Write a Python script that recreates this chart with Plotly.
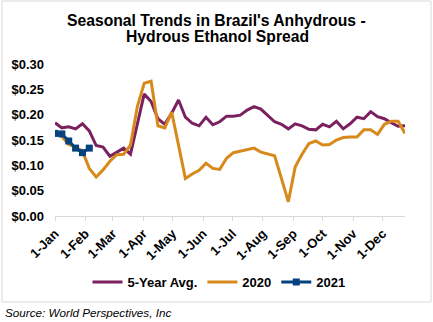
import pandas as pd
import plotly.graph_objects as go

# Weekly observation dates (categories)
weeks = pd.date_range("2021-01-01", periods=52, freq="7D")

avg5 = [0.184, 0.174, 0.176, 0.172, 0.182, 0.168, 0.139, 0.136, 0.118, 0.126,
        0.134, 0.122, 0.180, 0.241, 0.226, 0.192, 0.181, 0.203, 0.229, 0.195,
        0.183, 0.178, 0.195, 0.180, 0.186, 0.197, 0.197, 0.199, 0.209, 0.216,
        0.211, 0.199, 0.186, 0.181, 0.172, 0.182, 0.178, 0.171, 0.170, 0.181,
        0.176, 0.187, 0.172, 0.182, 0.195, 0.192, 0.206, 0.196, 0.192, 0.184,
        0.177, 0.178]
y2020 = [0.163, 0.157, 0.141, 0.136, 0.128, 0.094, 0.077, 0.091, 0.108, 0.121,
         0.122, 0.140, 0.216, 0.262, 0.266, 0.178, 0.174, 0.205, 0.140, 0.074,
         0.083, 0.090, 0.104, 0.094, 0.092, 0.114, 0.125, 0.128, 0.130, 0.134,
         0.126, 0.123, 0.119, 0.074, 0.028, 0.097, 0.122, 0.143, 0.148, 0.140,
         0.141, 0.150, 0.155, 0.156, 0.156, 0.170, 0.170, 0.161, 0.181, 0.187,
         0.187, 0.163]
y2021 = [0.163, 0.162, 0.148, 0.134, 0.125, 0.134]

series_names = ["5-Year Avg.", "2020", "2021"]
colors = ["#7B2160", "#D8891C", "#06437E"]

FONT = "Arial, Liberation Sans, sans-serif"

fig = go.Figure()
fig.add_trace(go.Scatter(x=weeks, y=avg5, name=series_names[0], mode="lines",
                         line=dict(color=colors[0], width=3)))
fig.add_trace(go.Scatter(x=weeks, y=y2020, name=series_names[1], mode="lines",
                         line=dict(color=colors[1], width=3)))
fig.add_trace(go.Scatter(x=weeks[:len(y2021)], y=y2021, name=series_names[2],
                         mode="lines+markers",
                         line=dict(color=colors[2], width=3),
                         marker=dict(symbol="square", size=7, color=colors[2])))

L, R, T, B = 55, 28, 64, 106
W, H = 433, 322
pw, ph = W - L - R, H - T - B

def px(x):
    return (x - L) / pw

def py(y):
    return (H - B - y) / ph

fig.update_layout(
    width=W, height=H,
    margin=dict(l=L, r=R, t=T, b=B),
    paper_bgcolor="white", plot_bgcolor="white",
    font=dict(family=FONT, color="#000000"),
    showlegend=True,
    legend=dict(orientation="h", x=px(219), xanchor="center", y=py(282),
                yanchor="middle", font=dict(size=13, weight="bold"),
                bgcolor="rgba(0,0,0,0)"),
    xaxis=dict(type="date", range=[weeks[0], weeks[-1]], tick0="2021-01-01",
               dtick="M1", tickformat="%-d-%b", tickangle=-45,
               ticks="outside", ticklen=4, tickcolor="#d9d9d9",
               showline=True, linecolor="#d9d9d9", linewidth=1,
               showgrid=False, zeroline=False,
               tickfont=dict(size=13, weight="bold")),
    yaxis=dict(range=[0, 0.30], dtick=0.05, tickformat="$.2f",
               showgrid=False, zeroline=False, showline=False,
               ticks="", ticklabelstandoff=10,
               tickfont=dict(size=13, weight="bold")),
    shapes=[dict(type="rect", xref="paper", yref="paper",
                 x0=px(2), x1=px(431), y0=py(302), y1=py(1),
                 line=dict(color="#d9d9d9", width=1), layer="below")],
    annotations=[
        dict(text="Seasonal Trends in Brazil's Anhydrous -", xref="paper", yref="paper",
             x=px(216.5), y=py(20), xanchor="center", yanchor="middle",
             showarrow=False, font=dict(size=15.7, weight="bold")),
        dict(text="Hydrous Ethanol Spread", xref="paper", yref="paper",
             x=px(217.5), y=py(36.5), xanchor="center", yanchor="middle",
             showarrow=False, font=dict(size=15.7, weight="bold")),
        dict(text="Source: World Perspectives, Inc", xref="paper", yref="paper",
             x=px(3), y=py(312), xanchor="left", yanchor="middle",
             showarrow=False, font=dict(size=11.7, style="italic")),
    ],
)

fig.write_html("out.html")
